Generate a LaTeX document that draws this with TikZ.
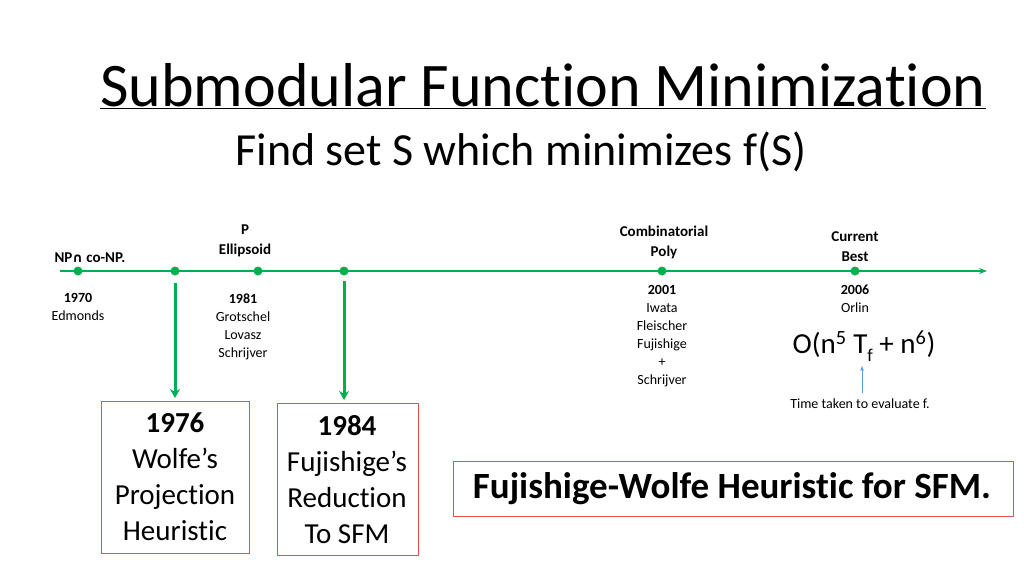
\documentclass[tikz,border=0pt]{standalone}
\usepackage{fontspec}
\setmainfont{Carlito}[Ligatures={NoCommon,NoRare}]
\newfontfamily\symfont{DejaVu Sans}
\usetikzlibrary{arrows.meta}
\definecolor{tlgreen}{RGB}{0,176,80}
\definecolor{boxred}{RGB}{230,80,80}
\definecolor{tinyblue}{RGB}{91,155,213}
\tikzset{
  dot/.style={circle,fill=tlgreen,inner sep=0pt,minimum size=9pt},
  small/.style={font=\fontsize{14}{18}\selectfont,align=center},
  smallb/.style={font=\fontsize{15}{19}\selectfont\bfseries,align=center},
  histbox/.style={draw=boxred,line width=0.8pt},
  boxtext/.style={font=\fontsize{29}{36}\selectfont,align=center}
}
\begin{document}
\begin{tikzpicture}[x=1pt,y=-1pt]
\useasboundingbox (0,0) rectangle (1024,576);
%title
\node (title) at (543,86) {\fontsize{62}{70}\selectfont\underline{Submodular Function Minimization}};
\node (sub) at (521,152) {\fontsize{46}{52}\selectfont Find set S which minimizes f(S)};
%timeline
\coordinate (tstart) at (60,271);
\coordinate (tend) at (987,271);
\draw[tlgreen,line width=1.2pt,-{Stealth[length=8pt]}] (tstart) -- (tend);
\foreach \n/\x in {a/78,b/175,c/258,d/344,e/662,f/855}
  \node[dot] (\n) at (\x,271) {};
%labels above
\node[smallb] (np) at (90,258) {NP{\symfont\fontsize{13}{15}\selectfont∩} co-NP.};
\node[smallb] (ell) at (245,241) {P\\[1pt]Ellipsoid};
\node[smallb] (comb) at (664,242) {Combinatorial\\[1pt]Poly};
\node[smallb] (best) at (855,247) {Current\\[1pt]Best};
%labels below
\node[small,anchor=north] (y70) at (78,290) {\textbf{1970}\\Edmonds};
\node[small,anchor=north] (y81) at (243,290) {\textbf{1981}\\Grotschel\\Lovasz\\Schrijver};
\node[small,anchor=north] (y01) at (662,282) {\textbf{2001}\\Iwata\\Fleischer\\Fujishige\\+\\Schrijver};
\node[small,anchor=north] (y06) at (855,281) {\textbf{2006}\\Orlin};
\node (bound) at (864,346) {\fontsize{29}{34}\selectfont O(n\textsuperscript{5} T\raisebox{-0.25em}{\fontsize{18}{20}\selectfont f} + n\textsuperscript{6})};
\node[small] (tf) at (860,404) {Time taken to evaluate f.};
\draw[tinyblue,line width=0.8pt,-{Stealth[length=5pt]}] (862,393) -- (862,366);
%boxes
\draw[tlgreen,line width=3pt,-{Stealth[length=9pt,width=10pt]}] (175,283) -- (175,398);
\draw[tlgreen,line width=3pt,-{Stealth[length=9pt,width=10pt]}] (344,281) -- (344,400);
\draw[histbox] (101,401) rectangle (249,553);
\node[boxtext] (wolfe) at (175,477) {\textbf{1976}\\Wolfe’s\\Projection\\Heuristic};
\draw[histbox] (277,403) rectangle (418,555);
\node[boxtext] (fuji) at (347,480) {\textbf{1984}\\Fujishige’s\\Reduction\\To SFM};
\draw[histbox] (453,461) rectangle (1013,516);
\node (fw) at (732,489) {\fontsize{37}{42}\selectfont\bfseries Fujishige-Wolfe Heuristic for SFM.};
\end{tikzpicture}
\end{document}
